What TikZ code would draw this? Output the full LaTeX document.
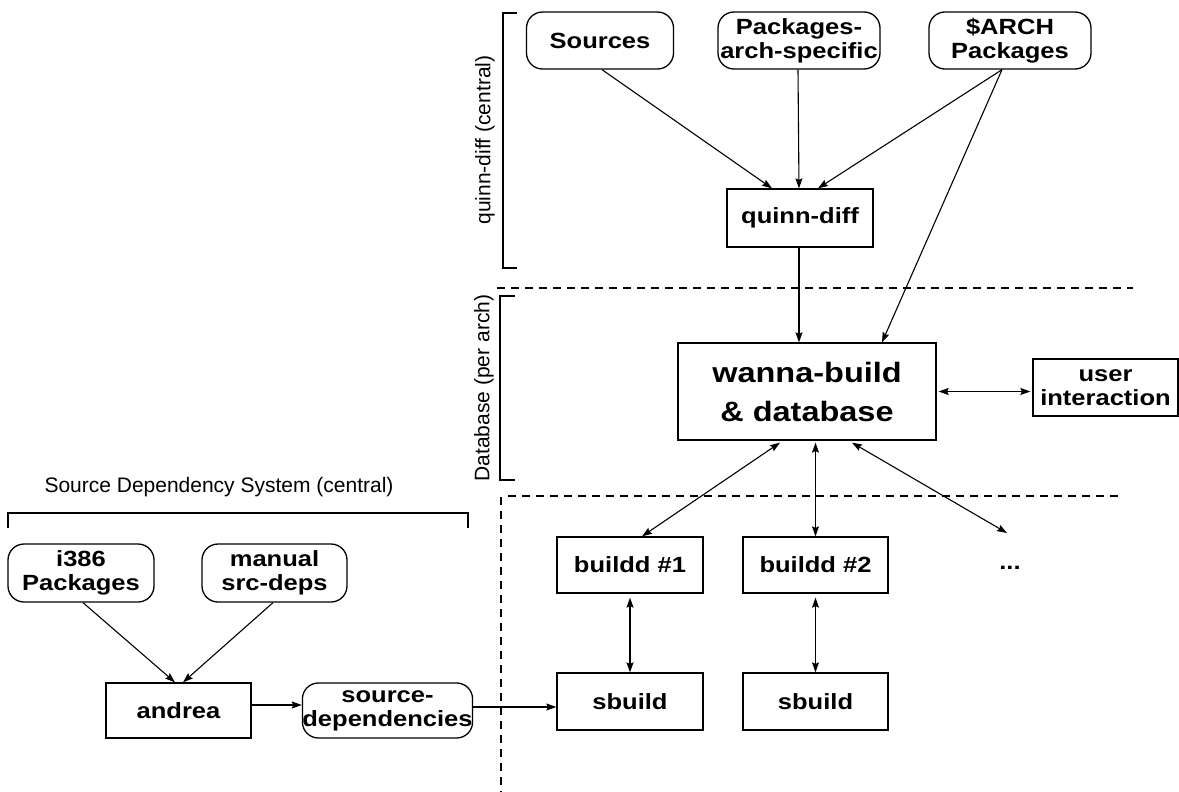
\documentclass[tikz,border=0pt]{standalone}
\usepackage{fontspec}
\setmainfont{Liberation Sans}
\newfontfamily\boxfont{Liberation Sans}[FakeStretch=1.16]
\usetikzlibrary{arrows.meta}
\begin{document}
\begin{tikzpicture}[x=1pt,y=-1pt,
  tip/.tip={Stealth[length=10pt,width=7pt,inset=1.5pt]},
  box/.style={draw,line width=1.3pt,inner sep=0pt,align=center,
    font=\boxfont\bfseries\fontsize{22}{24}\selectfont},
  rbox/.style={box,rounded corners=16pt},
  conn/.style={line width=1.1pt,-tip},
  both/.style={line width=1.1pt,tip-tip},
  grp/.style={line width=1.2pt},
  sep/.style={line width=1.2pt,dash pattern=on 8pt off 6pt},
  lbl/.style={inner sep=0pt,font=\fontsize{21}{23}\selectfont}]
\useasboundingbox (0,0) rectangle (1179,792);

% inputs of quinn-diff
\node[rbox,minimum width=147pt,minimum height=57pt] (src) at (600,40.5) {Sources};
\node[rbox,minimum width=162pt,minimum height=57pt] (pas) at (799,40.5) {Packages-\\arch-specific};
\node[rbox,minimum width=162pt,minimum height=57pt] (arch) at (1010,40.5) {\$ARCH\\Packages};
\node[box,minimum width=146pt,minimum height=58pt] (quinn) at (800,218) {quinn-diff};

% central database
\node[box,minimum width=258pt,minimum height=97pt,
  font=\boxfont\bfseries\fontsize{28}{39}\selectfont] (wanna) at (807,391.5) {wanna-build\\\& database};
\node[box,minimum width=145pt,minimum height=57pt] (user) at (1105.5,387.5) {user\\interaction};

% build daemons
\node[box,minimum width=146pt,minimum height=56pt] (b1) at (630,565) {buildd \#1};
\node[box,minimum width=145pt,minimum height=56pt] (b2) at (815.5,565) {buildd \#2};
\node[inner sep=0pt,font=\boxfont\bfseries\fontsize{22}{24}\selectfont] (dots) at (1010,568) {...};
\coordinate (dotstip) at (1007,533);
\node[box,minimum width=146pt,minimum height=57pt] (s1) at (630,701.5) {sbuild};
\node[box,minimum width=145pt,minimum height=57pt] (s2) at (815.5,701.5) {sbuild};

% source dependency system
\node[rbox,minimum width=146pt,minimum height=58pt] (i386) at (81,573) {i386\\Packages};
\node[rbox,minimum width=145pt,minimum height=58pt] (manual) at (274.5,573) {manual\\src-deps};
\node[box,minimum width=145pt,minimum height=55pt] (andrea) at (178.5,710.5) {andrea};
\node[rbox,minimum width=161pt,minimum height=55pt] (srcdep) at (387.5,710.5) {source-\\dependencies};

% group brackets and separators
\draw[grp] (517,13) -- (503,13) -- (503,268) -- (517,268);
\node[lbl,rotate=90] (lquinn) at (485,140) {quinn-diff (central)};
\draw[grp] (515,296) -- (500,296) -- (500,480) -- (515,480);
\node[lbl,rotate=90] (ldb) at (484,388) {Database (per arch)};
\draw[grp] (8,528) -- (8,513) -- (468,513) -- (468,528);
\node[lbl] (lsds) at (219,487) {Source Dependency System (central)};
\draw[sep] (497,288) -- (1133,288);
\draw[sep] (508,496) -- (1123,496);
\draw[sep] (501,497) -- (501,792);

% connectors
\draw[conn] ([xshift=2pt]src.south) -- ([xshift=-28pt]quinn.north);
\draw[conn] ([xshift=-1pt]pas.south) -- ([xshift=-1pt]quinn.north);
\draw[conn] ([xshift=-8pt]arch.south) -- ([xshift=18pt]quinn.north);
\draw[conn] ([xshift=-8pt]arch.south) -- ([xshift=75pt]wanna.north);
\draw[conn] ([xshift=-1pt]quinn.south) -- ([xshift=-8pt]wanna.north);
\draw[both] ([xshift=2pt]wanna.east) -- ([xshift=-2pt]wanna.east -| user.west);
\draw[both] ([xshift=-27pt,yshift=-2pt]wanna.south) -- ([xshift=12pt]b1.north);
\draw[both] ([yshift=-2pt]b2.north |- wanna.south) -- (b2.north);
\draw[both] ([xshift=45pt,yshift=-2pt]wanna.south) -- (dotstip);
\draw[both] ([yshift=-4pt]b1.south) -- (s1.north);
\draw[both] ([yshift=-4pt]b2.south) -- (s2.north);
\draw[conn] ([xshift=2pt]i386.south) -- ([xshift=-3.5pt]andrea.north);
\draw[conn] ([xshift=-1.5pt]manual.south) -- ([xshift=4.5pt]andrea.north);
\draw[conn] ([yshift=5.5pt]andrea.east) -- ([yshift=5.5pt]andrea.east -| srcdep.west);
\draw[conn] ([yshift=3.5pt]srcdep.east) -- ([yshift=3.5pt]srcdep.east -| s1.west);
\end{tikzpicture}
\end{document}
